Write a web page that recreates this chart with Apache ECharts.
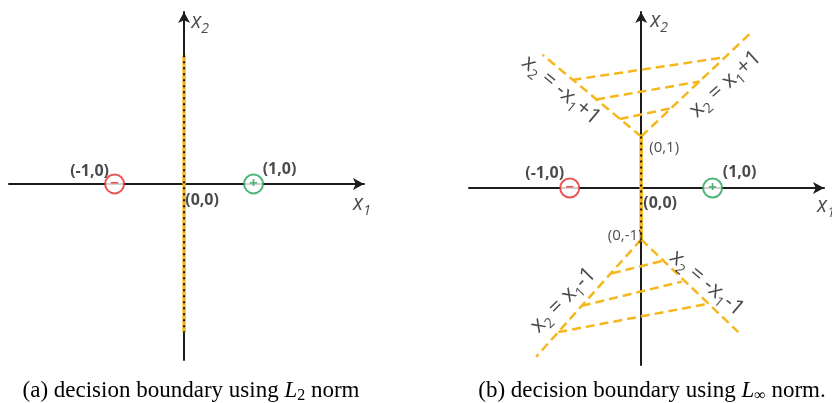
<!DOCTYPE html>
<html>
<head>
<meta charset="utf-8">
<script src="https://cdn.jsdelivr.net/npm/echarts@6/dist/echarts.min.js"></script>
<style>
  html, body { margin: 0; padding: 0; background: #fff; }
  #chart { width: 832px; height: 403px; }
</style>
</head>
<body>
<div id="chart"></div>
<script>
// ---- data (feature-space coordinates) ----
// class samples
const negativePoint = [-1, 0];
const positivePoint = [1, 0];
const origin = [0, 0];

// (a) L2 boundary: the vertical line x1 = 0
const l2Boundary = [[0, 1.85], [0, -2.13]];

// (b) L-infinity boundary: vertical segment between the two vertices
const linfSegment = [[0, 1], [0, -1]];
const upperVertex = [0, 1];
const lowerVertex = [0, -1];
const upperLeftArm = [[0, 1], [-1.38, 2.59]];
const upperRightArm = [[0, 1], [1.54, 3.02]];
const upperHatches = [
  [[-0.96, 2.10], [1.17, 2.54]],
  [[-0.63, 1.72], [0.82, 2.07]],
  [[-0.30, 1.34], [0.42, 1.55]]
];
const lowerLeftArm = [[0, -1], [-1.47, -3.28]];
const lowerRightArm = [[0, -1], [1.36, -2.80]];
const lowerHatches = [
  [[-0.41, -1.66], [0.29, -1.42]],
  [[-0.83, -2.29], [0.57, -1.82]],
  [[-1.16, -2.80], [0.90, -2.26]]
];

// axis extents
const leftX = [-2.52, 2.59], leftY = [-2.53, 2.47];
const rightX = [-2.41, 2.56], rightY = [-3.44, 3.42];

// ---- styles ----
const INK = '#1c1c1c';
const GOLD = '#f5b71e';
const SANS = '"Open Sans", "DejaVu Sans", sans-serif';
const SERIF = '"Liberation Serif", "DejaVu Serif", serif';

const rich = {
  v: { fontFamily: SANS, fontSize: 22, fontWeight: 'normal', color: INK, lineHeight: 28 },
  vi: { fontFamily: SANS, fontSize: 21, fontWeight: 'normal', fontStyle: 'italic', color: INK, lineHeight: 28 },
  s: { fontFamily: SANS, fontSize: 14, fontWeight: 'normal', color: INK, lineHeight: 28, verticalAlign: 'bottom' },
  si: { fontFamily: SANS, fontSize: 14, fontWeight: 'normal', fontStyle: 'italic', color: INK, lineHeight: 28, verticalAlign: 'bottom' }
};

function axisPair(idx, xr, yr) {
  const line = { show: true, onZero: true, symbol: ['none', 'arrow'], symbolSize: [9, 11],
                 lineStyle: { color: INK, width: 2 } };
  return {
    x: { type: 'value', gridIndex: idx, min: xr[0], max: xr[1], axisLine: line,
         axisTick: { show: false }, axisLabel: { show: false }, splitLine: { show: false } },
    y: { type: 'value', gridIndex: idx, min: yr[0], max: yr[1], axisLine: line,
         axisTick: { show: false }, axisLabel: { show: false }, splitLine: { show: false } }
  };
}
const axA = axisPair(0, leftX, leftY);
const axB = axisPair(1, rightX, rightY);

function seg(idx, pts, style, z) {
  return { type: 'line', xAxisIndex: idx, yAxisIndex: idx, data: pts, symbol: 'none',
           silent: true, animation: false, z: z || 3, lineStyle: style };
}
const dashedGold = { color: GOLD, width: 2.5, type: [9, 5] };

function boundary(idx, pts) {
  return [
    seg(idx, pts, { color: GOLD, width: 3.5 }, 3),
    seg(idx, pts, { color: '#111', width: 2, type: [2, 4] }, 4)
  ];
}

function samples(idx) {
  return {
    type: 'scatter', xAxisIndex: idx, yAxisIndex: idx, symbolSize: 19, z: 5, animation: false,
    data: [
      { value: negativePoint, itemStyle: { color: '#fff', borderColor: '#e52a2a', borderWidth: 2 },
        label: { show: true, position: 'inside', formatter: '\u2212', color: '#e52a2a',
                 fontSize: 15, fontWeight: 'bold', fontFamily: SANS } },
      { value: positivePoint, itemStyle: { color: '#fff', borderColor: '#23a455', borderWidth: 2 },
        label: { show: true, position: 'inside', formatter: '+', color: '#23a455',
                 fontSize: 15, fontWeight: 'bold', fontFamily: SANS } }
    ]
  };
}

function textItem(value, text, offset, extra) {
  return {
    value: value,
    label: Object.assign({ show: true, position: 'inside', formatter: text, offset: offset,
                           color: INK, fontFamily: SANS, fontSize: 16, fontWeight: 'bold', rich: rich }, extra || {})
  };
}
function textSeries(idx, items) {
  return { type: 'scatter', xAxisIndex: idx, yAxisIndex: idx, symbolSize: 1, z: 6, silent: true,
           animation: false, itemStyle: { color: 'rgba(0,0,0,0)' }, data: items };
}

const axisName1 = '{vi|x}{si|1}';
const axisName2 = '{vi|x}{si|2}';
const plain = { fontWeight: 'normal' };

const leftTexts = textSeries(0, [
  textItem(negativePoint, '(-1,0)', [-25, -12]),
  textItem(positivePoint, '(1,0)', [26, -14]),
  textItem(origin, '(0,0)', [18, 17]),
  textItem([leftX[1], 0], axisName1, [-2, 20], plain),
  textItem([0, leftY[1]], axisName2, [16, 10], plain)
]);

const rightTexts = textSeries(1, [
  textItem(negativePoint, '(-1,0)', [-25, -15]),
  textItem(positivePoint, '(1,0)', [27, -16]),
  textItem(origin, '(0,0)', [19, 15]),
  textItem(upperVertex, '(0,1)', [23, 11], { fontWeight: 'normal', fontSize: 15 }),
  textItem(lowerVertex, '(0,-1)', [-16, -4], { fontWeight: 'normal', fontSize: 15 }),
  textItem([rightX[1], 0], axisName1, [2, 18], plain),
  textItem([0, rightY[1]], axisName2, [18, 9], plain),
  textItem([-1.12, 1.90], '{v|x}{s|2}{v| = -x}{s|1}{v|+1}', [0, 0], Object.assign({ rotate: -40 }, plain)),
  textItem([1.18, 2.02], '{v|x}{s|2}{v| = x}{s|1}{v|+1}', [0, 0], Object.assign({ rotate: 42 }, plain)),
  textItem([-1.09, -2.18], '{v|x}{s|2}{v| = x}{s|1}{v|-1}', [0, 0], Object.assign({ rotate: 45 }, plain)),
  textItem([0.92, -1.85], '{v|x}{s|2}{v| = -x}{s|1}{v|-1}', [0, 0], Object.assign({ rotate: -40 }, plain))
]);

const capRich = {
  r: { fontFamily: SERIF, fontSize: 23, color: '#111' },
  i: { fontFamily: SERIF, fontSize: 23, fontStyle: 'italic', color: '#111' },
  s: { fontFamily: SERIF, fontSize: 16, color: '#111', padding: [9, 0, 0, 0] }
};

const series = [].concat(
  boundary(0, l2Boundary),
  [samples(0), leftTexts],
  boundary(1, linfSegment),
  [
    seg(1, upperLeftArm, dashedGold), seg(1, upperRightArm, dashedGold),
    seg(1, lowerLeftArm, dashedGold), seg(1, lowerRightArm, dashedGold)
  ],
  upperHatches.map(h => seg(1, h, dashedGold)),
  lowerHatches.map(h => seg(1, h, dashedGold)),
  [samples(1), rightTexts]
);

const chart = echarts.init(document.getElementById('chart'), null, { renderer: 'canvas' });
chart.setOption({
  backgroundColor: '#fff',
  animation: false,
  grid: [
    { left: 9, top: 12, width: 355, height: 348 },
    { left: 469, top: 12, width: 355, height: 353 }
  ],
  xAxis: [axA.x, axB.x],
  yAxis: [axA.y, axB.y],
  series: series,
  graphic: [
    { type: 'text', x: 191, y: 391, silent: true,
      style: { text: '{r|(a) decision boundary using }{i|L}{s|2}{r| norm}', rich: capRich,
               align: 'center', verticalAlign: 'middle' } },
    { type: 'text', x: 652, y: 391, silent: true,
      style: { text: '{r|(b) decision boundary using }{i|L}{s|\u221e}{r| norm.}', rich: capRich,
               align: 'center', verticalAlign: 'middle' } }
  ]
});
</script>
</body>
</html>
